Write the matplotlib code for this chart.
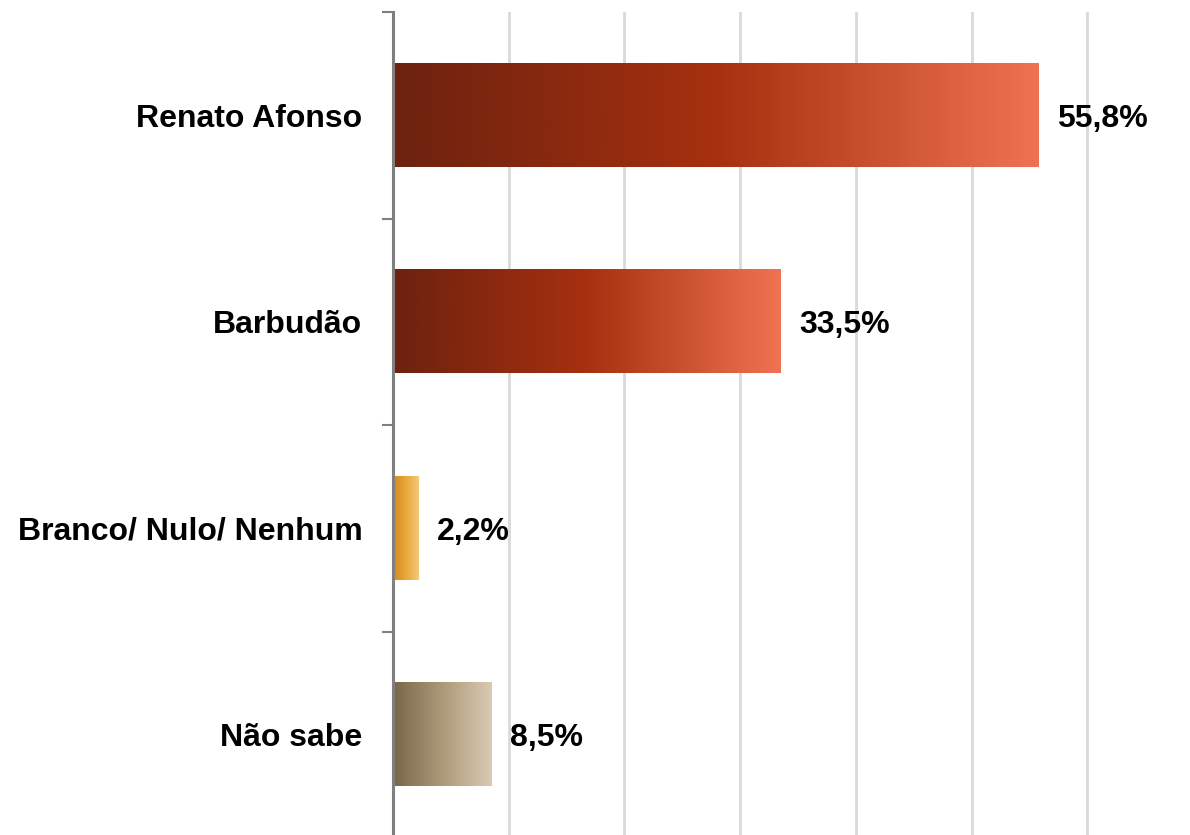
import numpy as np
import matplotlib.pyplot as plt
from matplotlib.colors import LinearSegmentedColormap

categories = ["Renato Afonso", "Barbudão", "Branco/ Nulo/ Nenhum", "Não sabe"]
values = [55.8, 33.5, 2.2, 8.5]
labels = ["55,8%", "33,5%", "2,2%", "8,5%"]

# gradient colours per bar (left -> right)
gradients = [
    ["#6c220f", "#a6300f", "#ef7352"],
    ["#6c220f", "#a6300f", "#ef7352"],
    ["#d58617", "#e8a83a", "#f3ca78"],
    ["#786649", "#ad9a7a", "#d9cab3"],
]

plt.rcParams["font.family"] = ["Liberation Sans", "DejaVu Sans"]

fig = plt.figure(figsize=(11.9, 8.35), dpi=100)
# x axis runs to 70%, past the right edge of the picture
ax = fig.add_axes([393 / 1190, -3 / 835, 810 / 1190, (835 - 12 + 3) / 835])

y = np.arange(len(categories))
bars = ax.barh(y, values, height=0.5, color="none", zorder=3)

grad = np.linspace(0, 1, 256).reshape(1, -1)
for bar, cols in zip(bars, gradients):
    cmap = LinearSegmentedColormap.from_list("g", cols)
    x0, y0 = bar.get_x(), bar.get_y()
    w, h = bar.get_width(), bar.get_height()
    ax.imshow(grad, cmap=cmap, aspect="auto", extent=[x0, x0 + w, y0 + h, y0],
              zorder=3, interpolation="bicubic")

for yi, v, lab in zip(y, values, labels):
    ax.annotate(lab, (v, yi), xytext=(13.5, 0), textcoords="offset points",
                ha="left", va="center_baseline", fontsize=23, fontweight="bold",
                annotation_clip=False)

ax.set_xlim(0, 70)
ax.set_ylim(len(categories) - 0.5, -0.5)
ax.set_xticks(np.arange(10, 71, 10))
ax.xaxis.grid(True, color="#d9d9d9", linewidth=2, zorder=0)
ax.tick_params(axis="x", length=0, labelbottom=False)

ax.set_yticks(np.arange(-0.5, len(categories), 1))
ax.set_yticklabels([])
ax.tick_params(axis="y", which="major", length=8, width=1.5, color="#808080")
ax.set_yticks(y, minor=True)
ax.set_yticklabels(categories, minor=True, fontsize=23, fontweight="bold",
                   va="center_baseline")
ax.tick_params(axis="y", which="minor", length=0, pad=22)

for s in ["top", "right", "bottom"]:
    ax.spines[s].set_visible(False)
ax.spines["left"].set_color("#7f7f7f")
ax.spines["left"].set_linewidth(2.2)
ax.spines["left"].set_zorder(4)

fig.savefig("out.png", dpi=100)
